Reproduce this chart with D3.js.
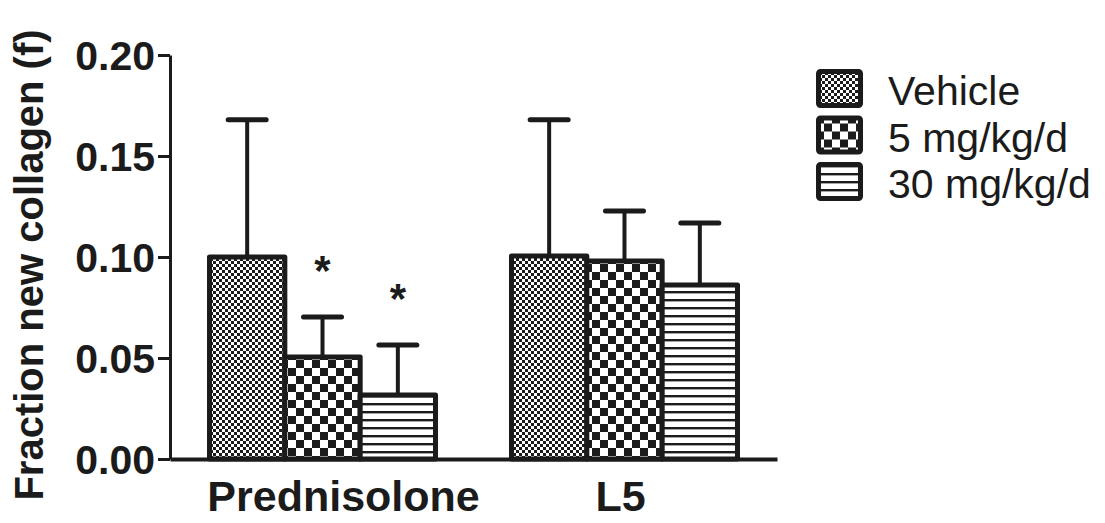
<!DOCTYPE html>
<html>
<head>
<meta charset="utf-8">
<script src="https://cdn.jsdelivr.net/npm/d3@7"></script>
<style>
  html, body { margin: 0; padding: 0; background: #fff; }
  svg { display: block; }
</style>
</head>
<body>
<svg id="chart" width="1105" height="523"></svg>
<script>
// Fraction of newly synthesised collagen by treatment group and dose
const groups = ["Prednisolone", "L5"];
const series = ["Vehicle", "5 mg/kg/d", "30 mg/kg/d"];
const prednisoloneMean = [0.100, 0.0505, 0.0317];
const prednisoloneErr  = [0.068, 0.0198, 0.0247];
const l5Mean = [0.1005, 0.098, 0.0861];
const l5Err  = [0.0675, 0.0248, 0.0307];
const prednisoloneSig = [false, true, true];
const l5Sig = [false, false, false];
const yTicks = [0, 0.05, 0.10, 0.15, 0.20];
const yTitle = "Fraction new collagen (f)";

const rows = [
  { group: groups[0], mean: prednisoloneMean, err: prednisoloneErr, sig: prednisoloneSig },
  { group: groups[1], mean: l5Mean, err: l5Err, sig: l5Sig }
];

const ink = "#1b1b1b";
const svg = d3.select("#chart");

// fill patterns: fine check, coarse check, horizontal rules
const defs = svg.append("defs");
const fine = defs.append("pattern").attr("id", "pat0")
  .attr("patternUnits", "userSpaceOnUse").attr("width", 6).attr("height", 6);
fine.append("rect").attr("width", 6).attr("height", 6).attr("fill", "#fff");
fine.append("rect").attr("width", 3).attr("height", 3).attr("fill", ink);
fine.append("rect").attr("x", 3).attr("y", 3).attr("width", 3).attr("height", 3).attr("fill", ink);

const coarse = defs.append("pattern").attr("id", "pat1")
  .attr("patternUnits", "userSpaceOnUse").attr("width", 16).attr("height", 16);
coarse.append("rect").attr("width", 16).attr("height", 16).attr("fill", "#fff");
coarse.append("rect").attr("width", 8).attr("height", 8).attr("fill", ink);
coarse.append("rect").attr("x", 8).attr("y", 8).attr("width", 8).attr("height", 8).attr("fill", ink);

const lines = defs.append("pattern").attr("id", "pat2")
  .attr("patternUnits", "userSpaceOnUse").attr("width", 8).attr("height", 8)
  .attr("y", 3);
lines.append("rect").attr("width", 8).attr("height", 8).attr("fill", "#fff");
lines.append("rect").attr("y", 0).attr("width", 8).attr("height", 2.4).attr("fill", ink);

const fills = ["url(#pat0)", "url(#pat1)", "url(#pat2)"];

// scales
const y = d3.scaleLinear().domain([0, 0.2]).range([459, 55]);
const x0 = d3.scaleBand().domain(groups).range([170, 777])
  .paddingInner(0.235).paddingOuter(0.1225);

// bars
const barGroups = svg.append("g").selectAll("g.grp").data(rows).join("g")
  .attr("class", "grp");

barGroups.each(function(row) {
  const gx = x0(row.group);
  const x1 = d3.scaleBand().domain(series)
    .range([gx + 2.5, gx + x0.bandwidth() - 2.5]).padding(0);
  const g = d3.select(this);
  const items = series.map((s, i) => ({ s, i, m: row.mean[i], e: row.err[i], sig: row.sig[i] }));

  // error bars (upper only)
  items.forEach(d => {
    const cx = x1(d.s) + x1.bandwidth() / 2;
    g.append("line")
      .attr("x1", cx).attr("x2", cx)
      .attr("y1", y(d.m)).attr("y2", y(d.m + d.e))
      .attr("stroke", ink).attr("stroke-width", 4);
    g.append("line")
      .attr("x1", cx - 19).attr("x2", cx + 19)
      .attr("y1", y(d.m + d.e)).attr("y2", y(d.m + d.e))
      .attr("stroke", ink).attr("stroke-width", 5).attr("stroke-linecap", "round");
    if (d.sig) {
      g.append("text")
        .attr("x", cx).attr("y", y(d.m + d.e) - 32)
        .attr("text-anchor", "middle")
        .attr("font-family", "Liberation Sans, Arial, sans-serif")
        .attr("font-weight", "bold").attr("font-size", 42)
        .attr("fill", ink).text("*");
    }
  });

  g.selectAll("rect").data(items).join("rect")
    .attr("x", d => x1(d.s))
    .attr("y", d => y(d.m))
    .attr("width", x1.bandwidth())
    .attr("height", d => y(0) - y(d.m))
    .attr("fill", d => fills[d.i])
    .attr("stroke", ink).attr("stroke-width", 5)
    .attr("stroke-linejoin", "round");
});

// y axis
const yAxis = svg.append("g").attr("transform", "translate(170,0)")
  .call(d3.axisLeft(y).tickValues(yTicks).tickFormat(d3.format(".2f"))
    .tickSize(12).tickSizeOuter(0).tickPadding(3));
yAxis.select(".domain").attr("stroke", ink).attr("stroke-width", 3);
yAxis.selectAll(".tick line").attr("stroke", ink).attr("stroke-width", 3);
yAxis.selectAll(".tick text")
  .attr("font-family", "Liberation Sans, Arial, sans-serif")
  .attr("font-weight", "bold").attr("font-size", 41).attr("fill", ink)
  .attr("dy", "0.36em");

// x axis
const labelShift = { "Prednisolone": 21, "L5": -4 };
const xAxis = svg.append("g").attr("transform", "translate(0,459)")
  .call(d3.axisBottom(x0).tickSize(0).tickSizeOuter(0));
xAxis.select(".domain").attr("stroke", ink).attr("stroke-width", 4);
xAxis.selectAll(".tick text")
  .attr("font-family", "Liberation Sans, Arial, sans-serif")
  .attr("font-weight", "bold").attr("font-size", 43).attr("fill", ink)
  .attr("dy", null).attr("y", 52)
  .attr("dx", d => labelShift[d] || 0);

// y axis title
svg.append("text")
  .attr("transform", "translate(43,265) rotate(-90)")
  .attr("text-anchor", "middle")
  .attr("font-family", "Liberation Sans, Arial, sans-serif")
  .attr("font-weight", "bold").attr("font-size", 40).attr("fill", ink)
  .text(yTitle);

// legend
const legend = svg.append("g").attr("transform", "translate(816,69)");
const leg = legend.selectAll("g").data(series).join("g")
  .attr("transform", (d, i) => `translate(0,${i * 46.5})`);
leg.append("rect")
  .attr("x", 2.5).attr("y", 2.5).attr("width", 42).attr("height", 34)
  .attr("rx", 2)
  .attr("fill", (d, i) => fills[i])
  .attr("stroke", ink).attr("stroke-width", 5).attr("stroke-linejoin", "round");
leg.append("text")
  .attr("x", 72).attr("y", 36)
  .attr("font-family", "Liberation Sans, Arial, sans-serif")
  .attr("font-size", 41).attr("fill", ink)
  .text(d => d);
</script>
</body>
</html>
